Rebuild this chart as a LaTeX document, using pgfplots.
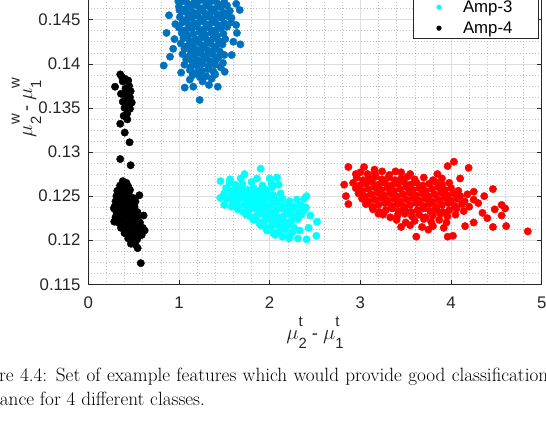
\documentclass[border=0pt]{standalone}
\usepackage{pgfplots}
\pgfplotsset{compat=1.18}
\usepackage{fontspec}
\setsansfont{Liberation Sans}
\definecolor{mblue}{rgb}{0,0.447,0.741}
\definecolor{mcyan}{rgb}{0,1,1}
\definecolor{mred}{rgb}{1,0,0}
\definecolor{axgray}{rgb}{0.15,0.15,0.15}
\definecolor{gridc}{gray}{0.87}
\newcommand{\mus}[2]{{\fontsize{21}{21}\selectfont$\mu$}\rlap{\fontsize{14.8}{14.8}\selectfont\sffamily\raisebox{12.5pt}{#1}}{\fontsize{14.8}{14.8}\selectfont\sffamily\raisebox{-9pt}{#2}}}
\begin{document}
\begin{tikzpicture}
\path[use as bounding box] (0pt,0pt) rectangle (546pt,428pt);
\clip (0pt,0pt) rectangle (546pt,428pt);
\begin{axis}[
  at={(88.3pt,143.7pt)}, anchor=south west,
  scale only axis, width=453.4pt, height=352.8pt,
  xmin=0, xmax=5, ymin=0.115, ymax=0.155,
  xtick={0,1,2,3,4,5},
  ytick={0.115,0.12,0.125,0.13,0.135,0.14,0.145,0.15,0.155},
  minor x tick num=4, minor y tick num=3,
  grid=both,
  major grid style={gridc, line width=0.5pt},
  minor grid style={black!25, line width=0.5pt, dash pattern=on 0.7pt off 2.3pt},
  tick align=inside, major tick length=4.5pt, minor tick length=0pt,
  tick style={axgray, line width=0.5pt},
  axis line style={axgray, line width=0.6pt},
  /pgf/number format/assume math mode=true,
  /pgf/number format/fixed, /pgf/number format/precision=3,
  tick label style={font=\fontsize{16.8}{16.8}\sffamily, text=axgray, inner sep=0pt},
  yticklabel style={xshift=-7.6pt},
  xticklabel style={yshift=-12.4pt},
  legend style={at={(0.9925,0.6953)}, anchor=south east, draw=axgray, line width=0.6pt,
    font=\fontsize{16.8}{16.8}\sffamily, inner xsep=0pt, inner ysep=0pt,
    nodes={inner sep=0pt, draw=none}, cells={anchor=west}, row sep=0pt, column sep=0pt},
  legend image code/.code={\path[draw=none,fill=none] (-26pt,-10.5pt) rectangle (24pt,10.5pt);\path[#1,draw=none,fill] (0pt,0pt) circle (2.6pt);},
  mark size=3.7pt,
]
% Amp-1 (red)
\addplot[only marks, mark=*, color=mred] coordinates {
(3.00,0.1277)(3.08,0.1275)(3.16,0.1276)(3.24,0.1278)(3.32,0.1274)(3.45,0.1277)(3.55,0.1275)
(2.96,0.1271)(3.03,0.1268)(3.10,0.1270)(3.17,0.1272)(3.24,0.1269)(3.31,0.1271)(3.38,0.1268)(3.45,0.1270)(3.52,0.1272)(3.60,0.1269)(3.70,0.1271)(3.80,0.1268)(3.90,0.1270)
(2.92,0.1265)(2.99,0.1262)(3.06,0.1264)(3.13,0.1266)(3.20,0.1263)(3.27,0.1265)(3.34,0.1262)(3.41,0.1264)(3.48,0.1266)(3.55,0.1263)(3.62,0.1265)(3.69,0.1262)(3.76,0.1264)(3.83,0.1266)(3.90,0.1263)(3.98,0.1265)
(2.95,0.1259)(3.02,0.1256)(3.09,0.1258)(3.16,0.1260)(3.23,0.1257)(3.30,0.1259)(3.37,0.1256)(3.44,0.1258)(3.51,0.1260)(3.58,0.1257)(3.65,0.1259)(3.72,0.1256)(3.79,0.1258)(3.86,0.1260)(3.93,0.1257)(4.00,0.1259)(4.08,0.1256)
(2.98,0.1253)(3.05,0.1250)(3.12,0.1252)(3.19,0.1254)(3.26,0.1251)(3.33,0.1253)(3.40,0.1250)(3.47,0.1252)(3.54,0.1254)(3.61,0.1251)(3.68,0.1253)(3.75,0.1250)(3.82,0.1252)(3.89,0.1254)(3.96,0.1251)(4.03,0.1253)(4.10,0.1250)(4.18,0.1252)
(3.02,0.1247)(3.09,0.1244)(3.16,0.1246)(3.23,0.1248)(3.30,0.1245)(3.37,0.1247)(3.44,0.1244)(3.51,0.1246)(3.58,0.1248)(3.65,0.1245)(3.72,0.1247)(3.79,0.1244)(3.86,0.1246)(3.93,0.1248)(4.00,0.1245)(4.07,0.1247)(4.15,0.1244)(4.25,0.1246)
(3.06,0.1241)(3.13,0.1238)(3.20,0.1240)(3.27,0.1242)(3.34,0.1239)(3.41,0.1241)(3.48,0.1238)(3.55,0.1240)(3.62,0.1242)(3.69,0.1239)(3.76,0.1241)(3.83,0.1238)(3.90,0.1240)(3.97,0.1242)(4.04,0.1239)(4.12,0.1241)(4.20,0.1238)
(3.14,0.1235)(3.21,0.1232)(3.28,0.1234)(3.35,0.1236)(3.42,0.1233)(3.49,0.1235)(3.56,0.1232)(3.63,0.1234)(3.70,0.1236)(3.77,0.1233)(3.84,0.1235)(3.91,0.1232)(3.98,0.1234)(4.06,0.1236)(4.14,0.1233)
(3.25,0.1229)(3.33,0.1226)(3.41,0.1228)(3.49,0.1230)(3.57,0.1227)(3.65,0.1229)(3.72,0.1226)(3.80,0.1228)(3.88,0.1230)(3.96,0.1227)(4.05,0.1229)
(3.40,0.1223)(3.50,0.1220)(3.60,0.1222)(3.70,0.1224)(3.78,0.1221)(3.87,0.1223)(3.95,0.1220)
(3.55,0.1217)(3.68,0.1215)(3.80,0.1216)(3.92,0.1214)
(2.822,0.1263)(2.841,0.1250)(2.868,0.1241)(2.868,0.1283)(3.041,0.1283)(3.156,0.1280)(3.387,0.1278)(3.617,0.1204)
(3.963,0.1284)(4.032,0.1289)(4.194,0.1282)(4.462,0.1258)(4.558,0.1240)(4.597,0.1236)(4.558,0.1228)(4.608,0.1216)
(4.462,0.1215)(4.847,0.1210)(3.963,0.1204)(4.021,0.1205)(4.251,0.1255)(4.366,0.1250)(4.347,0.1231)(4.155,0.1216)
(4.482,0.1235)(3.75,0.1212)(4.30,0.1242)(4.40,0.1225)(3.20,0.1230)(2.95,0.1275)(3.85,0.1275)(4.10,0.1270)(3.45,0.1215)(4.25,0.1220)
};
\addlegendentry{\makebox[75pt][l]{Amp-1}}
% Amp-2 (blue)
\addplot[only marks, mark=*, color=mblue] coordinates {
(1.06,0.1495)(1.13,0.1493)(1.19,0.1494)(1.26,0.1496)(1.33,0.1492)(1.40,0.1494)(1.46,0.1495)
(1.03,0.1489)(1.10,0.1486)(1.17,0.1488)(1.23,0.1490)(1.30,0.1487)(1.36,0.1489)(1.43,0.1486)(1.50,0.1488)
(1.05,0.1483)(1.12,0.1480)(1.18,0.1482)(1.25,0.1484)(1.31,0.1481)(1.38,0.1483)(1.44,0.1480)(1.52,0.1482)
(1.01,0.1477)(1.08,0.1474)(1.15,0.1476)(1.21,0.1478)(1.28,0.1475)(1.34,0.1477)(1.41,0.1474)(1.48,0.1476)(1.55,0.1478)
(1.04,0.1471)(1.10,0.1468)(1.17,0.1470)(1.23,0.1472)(1.30,0.1469)(1.36,0.1471)(1.43,0.1468)(1.50,0.1470)
(1.00,0.1465)(1.07,0.1462)(1.13,0.1464)(1.20,0.1466)(1.26,0.1463)(1.33,0.1465)(1.39,0.1462)(1.46,0.1464)(1.53,0.1466)
(1.03,0.1459)(1.10,0.1456)(1.16,0.1458)(1.23,0.1460)(1.29,0.1457)(1.36,0.1459)(1.42,0.1456)(1.49,0.1458)(1.56,0.1460)
(1.01,0.1453)(1.08,0.1450)(1.14,0.1452)(1.21,0.1454)(1.27,0.1451)(1.34,0.1453)(1.40,0.1450)(1.47,0.1452)(1.54,0.1454)
(1.04,0.1447)(1.11,0.1444)(1.17,0.1446)(1.24,0.1448)(1.30,0.1445)(1.37,0.1447)(1.43,0.1444)(1.50,0.1446)
(1.00,0.1441)(1.07,0.1438)(1.14,0.1440)(1.20,0.1442)(1.27,0.1439)(1.33,0.1441)(1.40,0.1438)(1.46,0.1440)(1.53,0.1442)
(1.03,0.1435)(1.10,0.1432)(1.16,0.1434)(1.23,0.1436)(1.29,0.1433)(1.36,0.1435)(1.42,0.1432)(1.49,0.1434)
(1.05,0.1429)(1.12,0.1426)(1.18,0.1428)(1.25,0.1430)(1.31,0.1427)(1.38,0.1429)(1.44,0.1426)(1.51,0.1428)
(1.02,0.1423)(1.09,0.1420)(1.15,0.1422)(1.22,0.1424)(1.28,0.1421)(1.35,0.1423)(1.41,0.1420)(1.48,0.1422)
(1.06,0.1417)(1.13,0.1414)(1.19,0.1416)(1.26,0.1418)(1.32,0.1415)(1.39,0.1417)(1.45,0.1414)
(1.04,0.1411)(1.11,0.1408)(1.17,0.1410)(1.24,0.1412)(1.30,0.1409)(1.37,0.1411)(1.44,0.1408)(1.50,0.1410)
(1.08,0.1405)(1.15,0.1402)(1.21,0.1404)(1.28,0.1406)(1.34,0.1403)(1.41,0.1405)
(1.06,0.1399)(1.13,0.1396)(1.20,0.1398)(1.26,0.1400)(1.33,0.1397)(1.40,0.1399)(1.46,0.1396)
(1.12,0.1393)(1.19,0.1390)(1.25,0.1392)(1.32,0.1394)(1.38,0.1391)
(1.15,0.1387)(1.23,0.1385)(1.30,0.1386)
(0.832,0.1398)(0.863,0.1435)(0.890,0.1455)(0.993,0.1471)(1.063,0.1373)(1.228,0.1359)(1.120,0.1382)(1.428,0.1374)
(1.331,0.1376)(1.504,0.1391)(1.485,0.1401)(1.581,0.1410)(1.677,0.1422)(1.639,0.1435)(1.631,0.1444)(1.670,0.1461)
(1.631,0.1468)(1.573,0.1447)(0.936,0.1417)(0.901,0.1408)(1.024,0.1390)(1.158,0.1374)(1.005,0.1461)(0.96,0.1445)
(0.95,0.1428)(1.60,0.1425)(1.58,0.1452)(1.36,0.1383)(1.26,0.1380)(1.40,0.1388)
};
\addlegendentry{\makebox[75pt][l]{Amp-2}}
% Amp-3 (cyan)
\addplot[only marks, mark=*, color=mcyan] coordinates {
(1.56,0.1265)(1.62,0.1263)(1.70,0.1264)(1.80,0.1266)(1.92,0.1262)(2.02,0.1264)
(1.52,0.1259)(1.58,0.1256)(1.64,0.1258)(1.70,0.1260)(1.76,0.1257)(1.82,0.1259)(1.88,0.1256)(1.95,0.1258)(2.03,0.1260)
(1.50,0.1253)(1.56,0.1250)(1.62,0.1252)(1.68,0.1254)(1.74,0.1251)(1.80,0.1253)(1.86,0.1250)(1.92,0.1252)(1.98,0.1254)(2.04,0.1251)(2.12,0.1253)
(1.53,0.1247)(1.59,0.1244)(1.65,0.1246)(1.71,0.1248)(1.77,0.1245)(1.83,0.1247)(1.89,0.1244)(1.95,0.1246)(2.01,0.1248)(2.07,0.1245)(2.14,0.1247)(2.22,0.1244)(2.30,0.1246)
(1.60,0.1241)(1.66,0.1238)(1.72,0.1240)(1.78,0.1242)(1.84,0.1239)(1.90,0.1241)(1.96,0.1238)(2.02,0.1240)(2.08,0.1242)(2.14,0.1239)(2.20,0.1241)(2.27,0.1238)(2.34,0.1240)
(1.65,0.1235)(1.71,0.1232)(1.77,0.1234)(1.83,0.1236)(1.89,0.1233)(1.95,0.1235)(2.01,0.1232)(2.07,0.1234)(2.13,0.1236)(2.19,0.1233)(2.25,0.1235)(2.32,0.1232)(2.38,0.1234)
(1.74,0.1229)(1.80,0.1226)(1.86,0.1228)(1.92,0.1230)(1.98,0.1227)(2.04,0.1229)(2.10,0.1226)(2.16,0.1228)(2.22,0.1230)(2.28,0.1227)(2.35,0.1229)
(1.82,0.1223)(1.88,0.1220)(1.94,0.1222)(2.00,0.1224)(2.06,0.1221)(2.12,0.1223)(2.18,0.1220)(2.24,0.1222)(2.31,0.1224)
(1.90,0.1217)(1.96,0.1214)(2.02,0.1216)(2.08,0.1218)(2.14,0.1215)(2.20,0.1217)(2.27,0.1214)
(1.97,0.1211)(2.04,0.1208)(2.10,0.1210)(2.17,0.1212)(2.25,0.1209)(2.33,0.1211)
(2.06,0.1206)(2.14,0.1204)(2.22,0.1205)
(1.458,0.1267)(1.455,0.1248)(1.562,0.1269)(1.723,0.1275)(1.900,0.1281)(2.081,0.1271)(2.100,0.1263)(2.407,0.1250)
(2.522,0.1221)(2.515,0.1205)(2.407,0.1201)(2.311,0.1202)(2.215,0.1202)(1.68,0.1270)(2.40,0.1237)(2.45,0.1228)
(2.38,0.1247)(2.43,0.1214)(1.86,0.1270)(2.00,0.1270)(1.50,0.1240)(1.58,0.1238)
};
\addlegendentry{\makebox[75pt][l]{Amp-3}}
% Amp-4 (black)
\addplot[only marks, mark=*, color=black] coordinates {
(0.295,0.1374)(0.371,0.1385)(0.402,0.1383)(0.352,0.1388)(0.440,0.1359)(0.467,0.1369)(0.479,0.1356)(0.352,0.1332)
(0.402,0.1322)(0.455,0.1311)(0.352,0.1292)(0.467,0.1285)
(0.39,0.1341)(0.43,0.1344)(0.46,0.1349)(0.40,0.1350)(0.44,0.1353)(0.38,0.1357)(0.42,0.1360)(0.46,0.1362)
(0.40,0.1365)(0.44,0.1368)(0.41,0.1372)(0.45,0.1375)(0.36,0.1366)(0.43,0.1337)(0.38,0.1380)(0.44,0.1381)
(0.38,0.1267)(0.42,0.1265)
(0.35,0.1262)(0.40,0.1260)(0.44,0.1261)
(0.32,0.1256)(0.37,0.1254)(0.42,0.1255)(0.46,0.1257)
(0.31,0.1250)(0.35,0.1248)(0.40,0.1249)(0.45,0.1251)(0.49,0.1248)
(0.30,0.1244)(0.34,0.1242)(0.39,0.1243)(0.43,0.1245)(0.48,0.1242)(0.52,0.1244)
(0.29,0.1238)(0.33,0.1236)(0.38,0.1237)(0.42,0.1239)(0.47,0.1236)(0.51,0.1238)
(0.31,0.1232)(0.36,0.1230)(0.40,0.1231)(0.45,0.1233)(0.50,0.1230)(0.54,0.1232)
(0.30,0.1226)(0.34,0.1224)(0.39,0.1225)(0.44,0.1227)(0.49,0.1224)(0.54,0.1226)
(0.33,0.1220)(0.38,0.1218)(0.42,0.1219)(0.47,0.1221)(0.52,0.1218)(0.57,0.1220)
(0.36,0.1214)(0.41,0.1212)(0.46,0.1213)(0.51,0.1215)(0.56,0.1212)(0.60,0.1214)
(0.40,0.1208)(0.45,0.1206)(0.50,0.1207)(0.55,0.1209)(0.59,0.1206)
(0.44,0.1202)(0.49,0.1200)(0.54,0.1201)
(0.47,0.1196)(0.52,0.1195)
(0.563,0.1251)(0.621,0.1211)(0.579,0.1174)(0.544,0.1191)(0.610,0.1228)(0.283,0.1236)(0.286,0.1221)
};
\addlegendentry{\makebox[75pt][l]{Amp-4}}
\end{axis}
\node[anchor=base, font=\fontsize{18.5}{18.5}\selectfont\sffamily, text=axgray, inner sep=0pt] at (315pt,88.5pt) {\mus{t}{2} - \mus{t}{1}};
\node[anchor=base, rotate=90, font=\fontsize{18.5}{18.5}\selectfont\sffamily, text=axgray, inner sep=0pt] at (32pt,319.5pt) {\mus{w}{2} - \mus{w}{1}};
\node[anchor=base west, inner sep=0pt, font=\fontsize{19.2}{23}\selectfont] at (-36pt,46.3pt) {\makebox[584pt][s]{Figure 4.4: Set of example features which would provide good classification}};
\node[anchor=base west, inner sep=0pt, font=\fontsize{19.2}{23}\selectfont] at (-36pt,22.7pt) {formance for 4 different classes.};
\end{tikzpicture}
\end{document}
